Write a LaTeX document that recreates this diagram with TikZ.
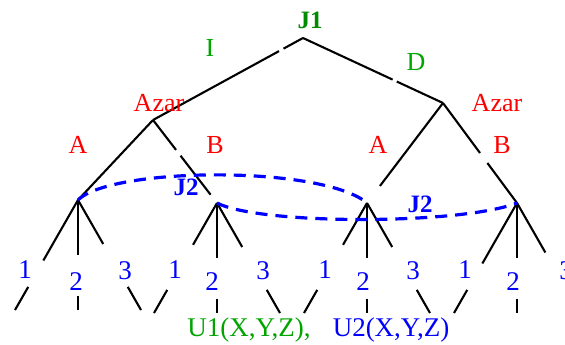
\documentclass[tikz,border=0pt]{standalone}
\usepackage{fontspec}
\setmainfont{Liberation Serif}
\usetikzlibrary{calc}

\definecolor{darkgreen}{RGB}{0,140,0}
\definecolor{lightgreen}{RGB}{0,165,0}

\begin{document}
\begin{tikzpicture}[
    x=1pt, y=-1pt,
    branch/.style={line width=2.1pt},
    infoset/.style={blue, line width=3.2pt, dash pattern=on 12pt off 8pt},
    lbl/.style={font=\fontsize{26}{26}\selectfont, inner sep=0pt},
    chance/.style={lbl, red},
    move/.style={lbl, blue, font=\fontsize{27}{27}\selectfont}
]
\useasboundingbox (0,0) rectangle (565,345);
\clip (0,0) rectangle (565,345);
\fill[white] (0,0) rectangle (565,345);

% decision points
\coordinate (root) at (303,38);
\coordinate (azarL) at (153,120);
\coordinate (azarR) at (443,103);
\coordinate (LL) at (78,200);
\coordinate (LR) at (217,203);
\coordinate (RL) at (367,203);
\coordinate (RR) at (517,203);

% first level
\draw[branch] (root) -- ($(root)!0.13!(azarL)$) ($(root)!0.16!(azarL)$) -- (azarL);
\draw[branch] (root) -- ($(root)!0.64!(azarR)$) ($(root)!0.67!(azarR)$) -- (azarR);

% chance level
\draw[branch] (azarL) -- (LL);
\draw[branch] (azarL) -- ($(azarL)!0.36!(LR)$) ($(azarL)!0.43!(LR)$) -- ($(azarL)!0.9!(LR)$);
\draw[branch] (azarR) -- ($(azarR)!0.83!(RL)$);
\draw[branch] (azarR) -- ($(azarR)!0.5!(RR)$) ($(azarR)!0.6!(RR)$) -- (RR);

% moves of J2
\foreach \n/\f/\g in {LL/0.55/0.4, LR/0.38/0.4, RL/0.38/0.4, RR/0.55/0.45} {
  \coordinate (\n-1) at ($(\n)+(-63,110)$);
  \coordinate (\n-2) at ($(\n)+(0,110)$);
  \coordinate (\n-3) at ($(\n)+(63,110)$);
  \draw[branch] (\n) -- ($(\n)!\f!(\n-1)$) ($(\n)!0.79!(\n-1)$) -- (\n-1);
  \draw[branch] (\n) -- ($(\n)!0.5!(\n-2)$) ($(\n)!0.87!(\n-2)$) -- (\n-2);
  \draw[branch] (\n) -- ($(\n)!\g!(\n-3)$) ($(\n)!0.79!(\n-3)$) -- (\n-3);
}

% information sets
\draw[infoset] (LL) .. controls (110,168) and (310,165) .. ($(RL)+(-4,-3)$);
\draw[infoset] (LR) .. controls (260,225) and (460,225) .. (RR);

% labels
\node[lbl, darkgreen, font=\fontsize{25}{25}\selectfont\bfseries] (j1) at (310,20) {J1};
\node[lbl, lightgreen] (mI) at (210,48) {I};
\node[lbl, lightgreen] (mD) at (416,62) {D};
\node[chance] (tAzarL) at (159,103) {Azar};
\node[chance] (tAzarR) at (497,103) {Azar};
\node[chance] (tAL) at (78,145) {A};
\node[chance] (tBL) at (215,145) {B};
\node[chance] (tAR) at (378,145) {A};
\node[chance] (tBR) at (502,145) {B};
\node[move, font=\fontsize{25}{25}\selectfont\bfseries] (j2a) at (186,187) {J2};
\node[move, font=\fontsize{25}{25}\selectfont\bfseries] (j2b) at (420,204) {J2};

\foreach \x [count=\i] in {25,175,325,465} {
  \node[move] (one\i) at (\x,270) {1};
}
\foreach \x [count=\i] in {76,212,363,513} {
  \node[move] (two\i) at (\x,282) {2};
}
\foreach \x [count=\i] in {125,263,413,566} {
  \node[move] (three\i) at (\x,271) {3};
}

\node[lbl, lightgreen, font=\fontsize{27}{27}\selectfont] (u1) at (249,330) {U1(X,Y,Z),};
\node[lbl, blue, font=\fontsize{27}{27}\selectfont] (u2) at (391,330) {U2(X,Y,Z)};
\end{tikzpicture}
\end{document}
